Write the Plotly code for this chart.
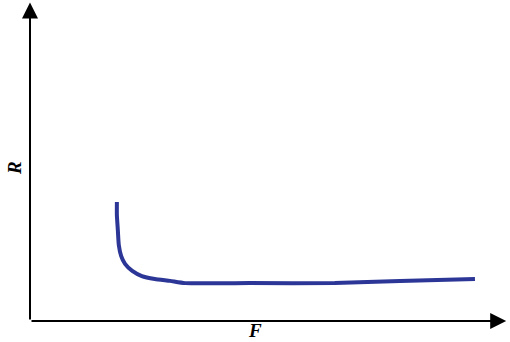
import plotly.graph_objects as go

# Curve values (arbitrary units; axes have no ticks)
F_vals = [18.1, 18.1, 18.3, 18.5, 19.0, 19.8, 21.3, 23.3, 26.0, 29.2, 32.3, 45.8, 63.5, 77.1, 92.7]
R_vals = [37.1, 33.0, 28.3, 23.7, 20.2, 17.8, 15.6, 14.0, 13.1, 12.5, 11.8, 11.8, 11.8, 12.5, 13.1]
x_label = "F"
y_label = "R"

fig = go.Figure()
fig.add_trace(go.Scatter(
    x=F_vals, y=R_vals, mode="lines",
    line=dict(color="#2b3696", width=4, shape="spline", smoothing=0.5),
    hoverinfo="skip", showlegend=False,
))

axis_common = dict(showgrid=False, zeroline=False, showticklabels=False, ticks="", showline=False)
fig.update_layout(
    width=510, height=342,
    margin=dict(l=30, r=0, t=0, b=21),
    paper_bgcolor="white", plot_bgcolor="white",
    xaxis=dict(range=[0, 100], **axis_common),
    yaxis=dict(range=[0, 100], **axis_common),
)

# Axis arrows
fig.add_annotation(x=0, y=99.2, ax=0, ay=0, xref="x", yref="y", axref="x", ayref="y",
                   showarrow=True, arrowhead=2, arrowsize=1.6, arrowwidth=2, arrowcolor="black", text="")
fig.add_annotation(x=99.2, y=0, ax=0, ay=0, xref="x", yref="y", axref="x", ayref="y",
                   showarrow=True, arrowhead=2, arrowsize=1.6, arrowwidth=2, arrowcolor="black", text="")

label_font = dict(family="Liberation Serif, Times New Roman, serif", size=19, color="black")
fig.add_annotation(x=-0.031, y=0.477, xref="paper", yref="paper", text=f"<b><i>{y_label}</i></b>",
                   showarrow=False, textangle=-90, font=label_font, xanchor="center", yanchor="middle")
fig.add_annotation(x=0.469, y=-0.031, xref="paper", yref="paper", text=f"<b><i>{x_label}</i></b>",
                   showarrow=False, font=label_font, xanchor="center", yanchor="middle")

fig.write_html("out.html", config={"displayModeBar": False},
               post_script="document.body.style.margin='0';document.body.style.overflow='hidden';")
